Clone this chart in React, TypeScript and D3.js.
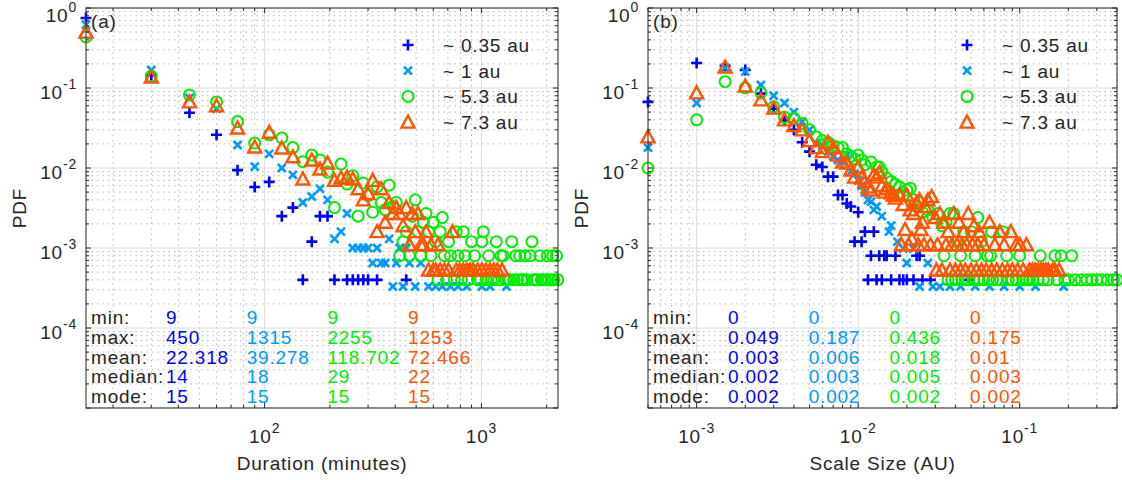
import React from 'react';
import * as d3 from 'd3';

// legend / stats
const seriesNames = ['~ 0.35 au', '~ 1 au', '~ 5.3 au', '~ 7.3 au'];
const seriesColors = ['#0000ff', '#0099ff', '#00ee00', '#ff5500'];
const seriesMarkers = ['plus', 'cross', 'circle', 'triangle'];
const statLabels = ['min:', 'max:', 'mean:', 'median:', 'mode:'];

const durStats = [
  ['9', '450', '22.318', '14', '15'],
  ['9', '1315', '39.278', '18', '15'],
  ['9', '2255', '118.702', '29', '15'],
  ['9', '1253', '72.466', '22', '15'],
];
const sizeStats = [
  ['0', '0.049', '0.003', '0.002', '0.002'],
  ['0', '0.187', '0.006', '0.003', '0.002'],
  ['0', '0.436', '0.018', '0.005', '0.002'],
  ['0', '0.175', '0.01', '0.003', '0.002'],
];

// (a) duration in minutes -> PDF
const durBlue = [[15,0.75],[30,0.145],[45,0.049],[60,0.026],[75,0.0094],[90,0.0058],[105,0.0067],[120,0.0025],[135,0.0032],[150,0.0004],[165,0.0012],[180,0.0025],[195,0.0025],[210,0.0004],[240,0.0004],[255,0.0004],[270,0.0004],[285,0.0004],[300,0.0004],[330,0.0004],[450,0.0004]];
const durLight = [[15,0.62],[30,0.168],[45,0.075],[60,0.055],[75,0.0194],[90,0.0104],[105,0.015],[120,0.01],[135,0.0082],[150,0.0037],[165,0.0044],[180,0.0055],[195,0.004],[210,0.0013],[225,0.0016],[240,0.0027],[255,0.001],[270,0.001],[285,0.001],[300,0.001],[315,0.00065],[330,0.001],[345,0.00065],[360,0.00065],[375,0.0013],[390,0.00033],[405,0.00065],[420,0.001],[435,0.00033],[450,0.001],[465,0.00065],[495,0.00033],[525,0.00065],[570,0.00033],[615,0.00033],[660,0.00033],[720,0.00033],[780,0.00033],[855,0.00033],[1005,0.00033],[1095,0.00033],[1305,0.00033]];
const durGreen = [[15,0.434],[30,0.141],[45,0.082],[60,0.067],[75,0.038],[90,0.0205],[105,0.026],[120,0.0237],[135,0.018],[150,0.012],[165,0.0145],[180,0.0126],[195,0.0089],[210,0.0032],[225,0.0112],[240,0.0063],[255,0.008],[270,0.0025],[285,0.0065],[300,0.0045],[315,0.0028],[330,0.0058],[345,0.0037],[360,0.003],[375,0.0061],[390,0.0033],[405,0.0037],[420,0.0008],[435,0.0012],[450,0.0016],[465,0.0008],[480,0.0025],[495,0.004],[510,0.0016],[525,0.0008],[540,0.0021],[555,0.0027],[570,0.0016],[585,0.0008],[600,0.0021],[615,0.0012],[630,0.0004],[645,0.0016],[660,0.0024],[675,0.0008],[690,0.0004],[705,0.0012],[720,0.0008],[750,0.0004],[765,0.0016],[780,0.0008],[810,0.0004],[825,0.0016],[840,0.0008],[870,0.0004],[900,0.0012],[930,0.0008],[960,0.0004],[990,0.0004],[1005,0.0012],[1020,0.0016],[1050,0.0004],[1080,0.0008],[1110,0.0004],[1140,0.0004],[1170,0.0012],[1200,0.0004],[1230,0.0008],[1260,0.0008],[1290,0.0004],[1320,0.0004],[1350,0.0004],[1380,0.0012],[1410,0.0004],[1440,0.0008],[1470,0.0004],[1500,0.0008],[1530,0.0004],[1560,0.0004],[1590,0.0008],[1620,0.0004],[1680,0.0008],[1710,0.0012],[1740,0.0004],[1770,0.0004],[1800,0.0004],[1860,0.0008],[1890,0.0004],[1920,0.0004],[1980,0.0004],[2010,0.0008],[2040,0.0004],[2100,0.0004],[2130,0.0008],[2160,0.0004],[2220,0.0008],[2250,0.0004]];
const durOrange = [[15,0.5],[30,0.137],[45,0.067],[60,0.06],[75,0.0316],[90,0.0183],[105,0.028],[120,0.0178],[135,0.0138],[150,0.0073],[165,0.0126],[180,0.0097],[195,0.0115],[210,0.007],[225,0.0075],[240,0.0077],[255,0.0073],[270,0.0055],[285,0.004],[300,0.0048],[315,0.007],[330,0.0016],[345,0.0055],[360,0.0021],[375,0.0037],[390,0.0027],[405,0.0032],[420,0.0027],[435,0.0019],[450,0.0032],[465,0.0011],[480,0.0027],[495,0.0016],[510,0.0027],[525,0.0011],[540,0.0011],[555,0.0016],[570,0.00053],[585,0.0011],[600,0.00053],[615,0.00053],[630,0.0011],[645,0.00053],[675,0.00053],[705,0.00053],[735,0.0016],[765,0.00053],[795,0.00053],[825,0.00053],[855,0.00053],[885,0.00053],[915,0.00053],[960,0.00053],[1005,0.00053],[1050,0.00053],[1095,0.00053],[1140,0.00053],[1185,0.00053],[1245,0.00053]];

// (b) scale size in AU -> PDF
const sizeBlue = [[0.0005,0.067],[0.001,0.205],[0.0015,0.19],[0.002,0.168],[0.0025,0.085],[0.003,0.055],[0.0035,0.04],[0.004,0.03],[0.0045,0.021],[0.005,0.016],[0.0055,0.011],[0.006,0.0103],[0.0065,0.0078],[0.007,0.0078],[0.0075,0.0046],[0.008,0.0046],[0.0085,0.0036],[0.009,0.0033],[0.0095,0.0012],[0.01,0.0028],[0.0105,0.0012],[0.011,0.0016],[0.0115,0.0004],[0.012,0.0008],[0.0125,0.0016],[0.013,0.0004],[0.0135,0.0008],[0.014,0.0004],[0.0145,0.0008],[0.015,0.0008],[0.016,0.0004],[0.017,0.0008],[0.018,0.0004],[0.019,0.0004],[0.02,0.0004],[0.022,0.0004],[0.023,0.0008],[0.024,0.0008],[0.025,0.0004],[0.028,0.0004],[0.049,0.0004]];
const sizeLight = [[0.0005,0.018],[0.001,0.065],[0.0015,0.18],[0.002,0.16],[0.0025,0.109],[0.003,0.08],[0.0035,0.065],[0.004,0.05],[0.0045,0.038],[0.005,0.03],[0.0055,0.0205],[0.006,0.019],[0.0065,0.016],[0.007,0.014],[0.0075,0.0126],[0.008,0.012],[0.0085,0.0145],[0.009,0.009],[0.0095,0.0085],[0.01,0.007],[0.0105,0.006],[0.011,0.005],[0.0115,0.004],[0.012,0.0038],[0.0125,0.003],[0.013,0.0033],[0.014,0.0025],[0.0155,0.0016],[0.016,0.0019],[0.0175,0.0012],[0.019,0.00098],[0.02,0.00065],[0.022,0.00098],[0.024,0.00033],[0.027,0.00065],[0.029,0.00033],[0.032,0.00033],[0.037,0.00033],[0.043,0.00033],[0.053,0.00033],[0.065,0.00033],[0.08,0.00033],[0.1,0.00033],[0.125,0.00033],[0.187,0.00033]];
const sizeGreen = [[0.0005,0.01],[0.001,0.04],[0.0015,0.12],[0.002,0.1],[0.0025,0.087],[0.003,0.058],[0.0035,0.043],[0.004,0.042],[0.0045,0.036],[0.005,0.03],[0.0055,0.0245],[0.006,0.022],[0.0065,0.021],[0.007,0.019],[0.0075,0.018],[0.008,0.018],[0.0085,0.015],[0.009,0.014],[0.0095,0.013],[0.01,0.0145],[0.0105,0.0126],[0.011,0.011],[0.012,0.0119],[0.013,0.0103],[0.0135,0.0103],[0.014,0.009],[0.015,0.0075],[0.016,0.0068],[0.017,0.0062],[0.018,0.0058],[0.019,0.0045],[0.02,0.0053],[0.021,0.0056],[0.022,0.004],[0.023,0.0033],[0.024,0.0037],[0.025,0.0028],[0.027,0.003],[0.029,0.0024],[0.031,0.0027],[0.033,0.0019],[0.034,0.0008],[0.035,0.0021],[0.036,0.0004],[0.037,0.0027],[0.038,0.0004],[0.039,0.0027],[0.04,0.0004],[0.041,0.0012],[0.043,0.0008],[0.044,0.0004],[0.045,0.0016],[0.046,0.0004],[0.048,0.0004],[0.05,0.0016],[0.052,0.0004],[0.053,0.0008],[0.055,0.0024],[0.056,0.0004],[0.058,0.0012],[0.06,0.0004],[0.063,0.0008],[0.064,0.0004],[0.066,0.0008],[0.067,0.0016],[0.068,0.0004],[0.072,0.0004],[0.076,0.0004],[0.079,0.0016],[0.083,0.0008],[0.085,0.0004],[0.09,0.0004],[0.095,0.0004],[0.1,0.0008],[0.105,0.0004],[0.11,0.0004],[0.115,0.0004],[0.12,0.0004],[0.13,0.0004],[0.134,0.0008],[0.14,0.0004],[0.15,0.0004],[0.165,0.0008],[0.17,0.0004],[0.18,0.0008],[0.19,0.0004],[0.2,0.0004],[0.21,0.0008],[0.22,0.0004],[0.24,0.0004],[0.26,0.0004],[0.28,0.0004],[0.3,0.0004],[0.32,0.0004],[0.35,0.0004],[0.38,0.0004],[0.4,0.0004]];
const sizeOrange = [[0.0005,0.0245],[0.001,0.087],[0.0015,0.183],[0.002,0.106],[0.0025,0.071],[0.003,0.056],[0.0035,0.04],[0.004,0.034],[0.0045,0.03],[0.005,0.022],[0.0055,0.018],[0.006,0.016],[0.0065,0.021],[0.007,0.018],[0.0075,0.0145],[0.008,0.0119],[0.0085,0.0115],[0.009,0.0094],[0.0095,0.0077],[0.01,0.0103],[0.0105,0.0075],[0.011,0.0068],[0.0115,0.0058],[0.012,0.0053],[0.0125,0.0082],[0.013,0.0077],[0.0135,0.0087],[0.014,0.006],[0.0145,0.005],[0.015,0.0055],[0.016,0.0049],[0.0165,0.0046],[0.017,0.0042],[0.018,0.0046],[0.0185,0.0011],[0.019,0.0035],[0.0195,0.0017],[0.02,0.0046],[0.0205,0.0011],[0.021,0.003],[0.0215,0.0013],[0.022,0.0027],[0.023,0.0037],[0.0235,0.0011],[0.024,0.004],[0.0245,0.0017],[0.025,0.0021],[0.0255,0.0011],[0.026,0.0033],[0.027,0.004],[0.028,0.0011],[0.0285,0.0044],[0.03,0.0024],[0.0305,0.00053],[0.031,0.0011],[0.032,0.0027],[0.033,0.00053],[0.034,0.0021],[0.035,0.0011],[0.036,0.0016],[0.037,0.00053],[0.038,0.0011],[0.039,0.0027],[0.04,0.00053],[0.041,0.0011],[0.042,0.0021],[0.043,0.00053],[0.044,0.0011],[0.045,0.0016],[0.046,0.00053],[0.047,0.0011],[0.048,0.0027],[0.05,0.00053],[0.051,0.0011],[0.052,0.0019],[0.054,0.00053],[0.055,0.0011],[0.056,0.0016],[0.058,0.00053],[0.06,0.0011],[0.062,0.00053],[0.065,0.0021],[0.067,0.00053],[0.07,0.0011],[0.072,0.00053],[0.075,0.0016],[0.078,0.00053],[0.08,0.0011],[0.084,0.00053],[0.088,0.0016],[0.09,0.00053],[0.095,0.0011],[0.097,0.00053],[0.1,0.0011],[0.105,0.00053],[0.11,0.0011],[0.115,0.00053],[0.12,0.00053],[0.125,0.00053],[0.13,0.00053],[0.135,0.00053],[0.14,0.00053],[0.145,0.00053],[0.15,0.00053],[0.16,0.00053],[0.165,0.00053],[0.175,0.00053]];

const TOP = 8;
const BOTTOM = 408;
const INK = '#262626';
const FONT = '"Liberation Sans", Arial, sans-serif';

const isMajor = (t: number) => {
  const l = Math.log10(t);
  return Math.abs(l - Math.round(l)) < 1e-6;
};

function Marker({ type, cx, cy, color }: any) {
  if (type === 'plus') {
    return <path d={`M${cx - 5.5},${cy}H${cx + 5.5}M${cx},${cy - 5.5}V${cy + 5.5}`} stroke={color} strokeWidth={2.6} fill="none" />;
  }
  if (type === 'cross') {
    return <path d={`M${cx - 4},${cy - 4}L${cx + 4},${cy + 4}M${cx - 4},${cy + 4}L${cx + 4},${cy - 4}`} stroke={color} strokeWidth={2.6} fill="none" />;
  }
  if (type === 'circle') {
    return <circle cx={cx} cy={cy} r={5.5} stroke={color} strokeWidth={2} fill="none" />;
  }
  return <path d={`M${cx},${cy - 6.5}L${cx + 6.5},${cy + 5.5}L${cx - 6.5},${cy + 5.5}Z`} stroke={color} strokeWidth={2.4} fill="none" />;
}

function Pow10({ x, y, anchor, exp }: any) {
  return (
    <text x={x} y={y} textAnchor={anchor} fontSize={19}>
      10<tspan dy={-10} fontSize={14}>{exp}</tspan>
    </text>
  );
}

function Panel({ left, right, xDomain, series, stats, tag, xLabel }: any) {
  const x = d3.scaleLog().domain(xDomain).range([left, right]);
  const y = d3.scaleLog().domain([1e-5, 1]).range([BOTTOM, TOP]);
  const xTicks = x.ticks().filter((t) => t >= xDomain[0] && t <= xDomain[1]);
  const yTicks = y.ticks();
  const legendX = right - 150;

  return (
    <g>
      {/* grid */}
      {xTicks.map((t, i) => (
        <line key={'gx' + i} x1={x(t)} x2={x(t)} y1={TOP} y2={BOTTOM}
          stroke={isMajor(t) ? '#dcdcdc' : '#b5b5b5'} strokeWidth={1}
          strokeDasharray={isMajor(t) ? null : '1.5 4'} />
      ))}
      {yTicks.map((t, i) => (
        <line key={'gy' + i} x1={left} x2={right} y1={y(t)} y2={y(t)}
          stroke={isMajor(t) ? '#dcdcdc' : '#b5b5b5'} strokeWidth={1}
          strokeDasharray={isMajor(t) ? null : '1.5 4'} />
      ))}

      {/* data */}
      {series.map((s, si) =>
        s.filter((d) => d[0] >= xDomain[0] && d[0] <= xDomain[1]).map((d, i) => (
          <Marker key={si + '-' + i} type={seriesMarkers[si]} cx={x(d[0])} cy={y(d[1])} color={seriesColors[si]} />
        ))
      )}

      {/* box + ticks */}
      <rect x={left} y={TOP} width={right - left} height={BOTTOM - TOP} fill="none" stroke={INK} strokeWidth={1} />
      {xTicks.map((t, i) => {
        const len = isMajor(t) ? 5 : 3;
        return (
          <g key={'tx' + i} stroke={INK}>
            <line x1={x(t)} x2={x(t)} y1={BOTTOM} y2={BOTTOM - len} />
            <line x1={x(t)} x2={x(t)} y1={TOP} y2={TOP + len} />
          </g>
        );
      })}
      {yTicks.map((t, i) => {
        const len = isMajor(t) ? 5 : 3;
        return (
          <g key={'ty' + i} stroke={INK}>
            <line x1={left} x2={left + len} y1={y(t)} y2={y(t)} />
            <line x1={right} x2={right - len} y1={y(t)} y2={y(t)} />
          </g>
        );
      })}

      {/* tick labels */}
      {xTicks.filter(isMajor).map((t, i) => (
        <Pow10 key={'lx' + i} x={x(t)} y={443} anchor="middle" exp={Math.round(Math.log10(t))} />
      ))}
      {yTicks.filter((t) => isMajor(t) && t > 2e-5).map((t, i) => (
        <Pow10 key={'ly' + i} x={left - 9} y={Math.max(y(t) + 11, 22)} anchor="end" exp={Math.round(Math.log10(t))} />
      ))}

      <text x={(left + right) / 2} y={470} textAnchor="middle" fontSize={19}>{xLabel}</text>
      <text transform={`translate(${left - 60},${(TOP + BOTTOM) / 2}) rotate(-90)`} textAnchor="middle" fontSize={19}>PDF</text>
      <text x={left + 5} y={28} fontSize={19}>{tag}</text>

      {/* legend */}
      {seriesNames.map((name, i) => {
        const cy = TOP + 37 + i * 25.7;
        return (
          <g key={'lg' + i}>
            <Marker type={seriesMarkers[i]} cx={legendX} cy={cy} color={seriesColors[i]} />
            <text x={legendX + 35} y={cy + 7} fontSize={19}>{name}</text>
          </g>
        );
      })}

      {/* stats table */}
      {statLabels.map((lab, r) => (
        <g key={'st' + r}>
          <text x={left + 5} y={324 + r * 19.8} fontSize={19}>{lab}</text>
          {stats.map((col, c) => (
            <text key={c} x={left + 80 + c * 80.7} y={324 + r * 19.8} fontSize={19} fill={seriesColors[c]}>{col[r]}</text>
          ))}
        </g>
      ))}
    </g>
  );
}

export default function App() {
  return (
    <svg width={1122} height={480} style={{ position: 'absolute', left: 0, top: 0, background: '#fff' }}
      fontFamily={FONT} fill={INK} letterSpacing={0.8}>
      <rect width={1122} height={480} fill="#fff" />
      <Panel left={86} right={558} xDomain={[15, 2255]}
        series={[durBlue, durLight, durGreen, durOrange]} stats={durStats}
        tag="(a)" xLabel="Duration (minutes)" />
      <Panel left={648} right={1117} xDomain={[0.0005, 0.4]}
        series={[sizeBlue, sizeLight, sizeGreen, sizeOrange]} stats={sizeStats}
        tag="(b)" xLabel="Scale Size (AU)" />
    </svg>
  );
}
